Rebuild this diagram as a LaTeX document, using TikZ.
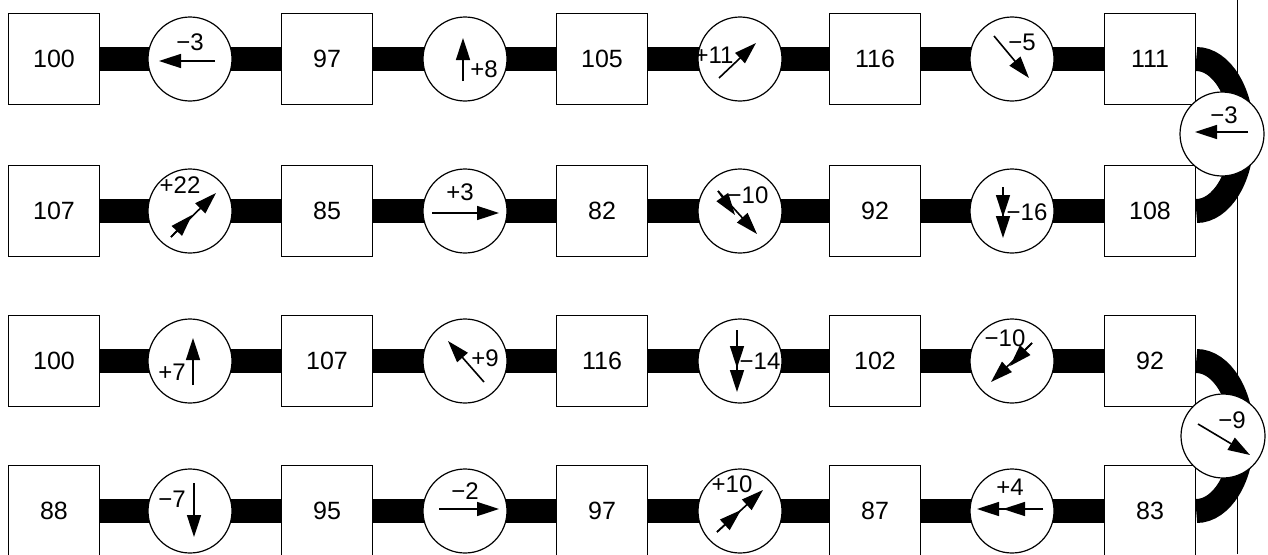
\documentclass[tikz,border=0pt]{standalone}
\usepackage{fontspec}
\setmainfont{Liberation Sans}
\usetikzlibrary{arrows.meta,backgrounds}
\begin{document}
\begin{tikzpicture}[x=1pt,y=-1pt,
  box/.style={draw,line width=1.4pt,fill=white,minimum width=91pt,minimum height=91pt,inner sep=0pt,font=\fontsize{25}{28}\selectfont},
  dial/.style={draw,circle,line width=1.2pt,fill=white,minimum size=84pt,inner sep=0pt},
  bar/.style={line width=24pt},
  arr/.style={line width=1.6pt,-{Triangle[length=22pt,width=14pt]}},
  lbl/.style={font=\fontsize{24}{26}\selectfont,inner sep=0pt}]
\useasboundingbox (0,0) rectangle (1268,554);
% row 1
\node[box] (b11) at (54,59) {100};
\node[box] (b12) at (327,59) {97};
\node[box] (b13) at (602,59) {105};
\node[box] (b14) at (875,59) {116};
\node[box] (b15) at (1150,59) {111};
% row 2
\node[box] (b21) at (54,211) {107};
\node[box] (b22) at (327,211) {85};
\node[box] (b23) at (602,211) {82};
\node[box] (b24) at (875,211) {92};
\node[box] (b25) at (1150,211) {108};
% row 3
\node[box] (b31) at (54,361) {100};
\node[box] (b32) at (327,361) {107};
\node[box] (b33) at (602,361) {116};
\node[box] (b34) at (875,361) {102};
\node[box] (b35) at (1150,361) {92};
% row 4
\node[box] (b41) at (54,511) {88};
\node[box] (b42) at (327,511) {95};
\node[box] (b43) at (602,511) {97};
\node[box] (b44) at (875,511) {87};
\node[box] (b45) at (1150,511) {83};
% dials
\node[dial] (c11) at (190,59) {};
\node[dial] (c12) at (465,59) {};
\node[dial] (c13) at (740,59) {};
\node[dial] (c14) at (1012,59) {};
\node[dial] (c21) at (190,211) {};
\node[dial] (c22) at (465,211) {};
\node[dial] (c23) at (740,211) {};
\node[dial] (c24) at (1012,211) {};
\node[dial] (c31) at (190,361) {};
\node[dial] (c32) at (465,361) {};
\node[dial] (c33) at (740,361) {};
\node[dial] (c34) at (1012,361) {};
\node[dial] (c41) at (190,511) {};
\node[dial] (c42) at (465,511) {};
\node[dial] (c43) at (740,511) {};
\node[dial] (c44) at (1012,511) {};
\node[dial] (r1) at (1222,134) {};
\node[dial] (r2) at (1223,436) {};
% background: bars, turns, fold line
\begin{scope}[on background layer]
\draw[line width=0.8pt] (1237,0) -- (1237,554);
\draw[bar] (b11) -- (b15);
\draw[bar] (b21) -- (b25);
\draw[bar] (b31) -- (b35);
\draw[bar] (b41) -- (b45);
\draw[bar] (b15.east) arc[start angle=-90,end angle=90,x radius=46,y radius=76];
\draw[bar] (b35.east) arc[start angle=-90,end angle=90,x radius=46,y radius=75];
\end{scope}
% dial contents
\node[lbl] (t11) at ([shift={(0,-17)}]c11.center) {−3};
\draw[arr] ([shift={(25,2)}]c11.center) -- ([shift={(-31,2)}]c11.center);
\node[lbl] (t12) at ([shift={(19,10)}]c12.center) {+8};
\draw[arr] ([shift={(-2,22)}]c12.center) -- ([shift={(-2,-21)}]c12.center);
\node[lbl] (t13) at ([shift={(-26,-4)}]c13.center) {+11};
\draw[arr] ([shift={(-21,19)}]c13.center) -- ([shift={(16,-16)}]c13.center);
\node[lbl] (t14) at ([shift={(10,-17)}]c14.center) {−5};
\draw[arr] ([shift={(-18,-23)}]c14.center) -- ([shift={(17,19)}]c14.center);
\node[lbl] (tr1) at ([shift={(2,-19)}]r1.center) {−3};
\draw[arr] ([shift={(26,-2)}]r1.center) -- ([shift={(-27,-2)}]r1.center);
%
\node[lbl] (t21) at ([shift={(-10,-26)}]c21.center) {+22};
\draw[arr] ([shift={(-19,26)}]c21.center) -- ([shift={(26,-18)}]c21.center);
\draw[arr] ([shift={(-19,26)}]c21.center) -- ([shift={(2,4)}]c21.center);
\node[lbl] (t22) at ([shift={(-5,-19)}]c22.center) {+3};
\draw[arr] ([shift={(-33,2)}]c22.center) -- ([shift={(34,2)}]c22.center);
\node[lbl] (t23) at ([shift={(8,-16)}]c23.center) {−10};
\draw[arr] ([shift={(-22,-20)}]c23.center) -- ([shift={(17,23)}]c23.center);
\draw[arr] ([shift={(-22,-20)}]c23.center) -- ([shift={(-5,4)}]c23.center);
\node[lbl] (t24) at ([shift={(15,1)}]c24.center) {−16};
\draw[arr] ([shift={(-9,-24)}]c24.center) -- ([shift={(-9,27)}]c24.center);
\draw[arr] ([shift={(-9,-24)}]c24.center) -- ([shift={(-9,6)}]c24.center);
%
\node[lbl] (t31) at ([shift={(-18,11)}]c31.center) {+7};
\draw[arr] ([shift={(3,24)}]c31.center) -- ([shift={(3,-23)}]c31.center);
\node[lbl] (t32) at ([shift={(20,-3)}]c32.center) {+9};
\draw[arr] ([shift={(19,21)}]c32.center) -- ([shift={(-17,-20)}]c32.center);
\node[lbl] (t33) at ([shift={(20,0)}]c33.center) {−14};
\draw[arr] ([shift={(-3,-31)}]c33.center) -- ([shift={(-3,31)}]c33.center);
\draw[arr] ([shift={(-3,-31)}]c33.center) -- ([shift={(-3,7)}]c33.center);
\node[lbl] (t34) at ([shift={(-7,-23)}]c34.center) {−10};
\draw[arr] ([shift={(20,-18)}]c34.center) -- ([shift={(-21,21)}]c34.center);
\draw[arr] ([shift={(20,-18)}]c34.center) -- ([shift={(-2,5)}]c34.center);
\node[lbl] (tr2) at ([shift={(9,-16)}]r2.center) {−9};
\draw[arr] ([shift={(-25,-12)}]r2.center) -- ([shift={(27,19)}]r2.center);
%
\node[lbl] (t41) at ([shift={(-18,-12)}]c41.center) {−7};
\draw[arr] ([shift={(4,-28)}]c41.center) -- ([shift={(4,26)}]c41.center);
\node[lbl] (t42) at ([shift={(0,-20)}]c42.center) {−2};
\draw[arr] ([shift={(-26,-2)}]c42.center) -- ([shift={(34,-2)}]c42.center);
\node[lbl] (t43) at ([shift={(-8,-27)}]c43.center) {+10};
\draw[arr] ([shift={(-23,21)}]c43.center) -- ([shift={(23,-21)}]c43.center);
\draw[arr] ([shift={(-23,21)}]c43.center) -- ([shift={(1,-1)}]c43.center);
\node[lbl] (t44) at ([shift={(-2,-24)}]c44.center) {+4};
\draw[arr] ([shift={(31,-2)}]c44.center) -- ([shift={(-35,-2)}]c44.center);
\draw[arr] ([shift={(31,-2)}]c44.center) -- ([shift={(-9,-2)}]c44.center);
\end{tikzpicture}
\end{document}
